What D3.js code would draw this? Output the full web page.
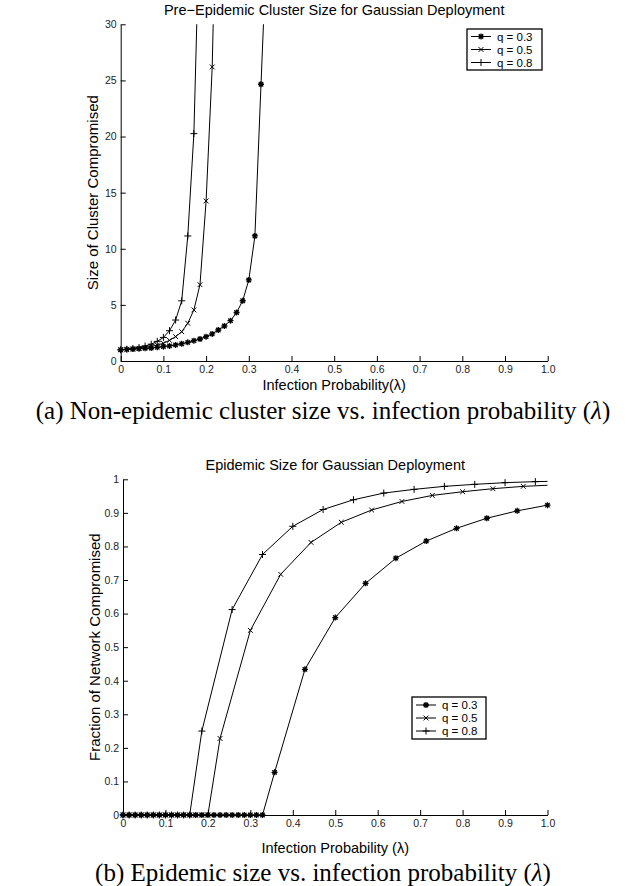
<!DOCTYPE html>
<html>
<head>
<meta charset="utf-8">
<script src="https://cdn.jsdelivr.net/npm/d3@7"></script>
<style>
  body { margin: 0; background: #fff; }
  svg { display: block; }
</style>
</head>
<body>
<svg id="fig" width="629" height="886"></svg>
<script>
// ---- (a) pre-epidemic cluster size: infection probability grid and mean cluster size
const preLambda = [0, 0.0143, 0.0286, 0.0429, 0.0571, 0.0714, 0.0857, 0.1, 0.1143, 0.1286,
  0.1429, 0.1571, 0.1714, 0.1857, 0.2, 0.2143, 0.2286, 0.2429, 0.2571, 0.2714,
  0.2857, 0.3, 0.3143, 0.3286, 0.3429];
const preQ03 = [1.0, 1.04, 1.07, 1.10, 1.13, 1.16, 1.22, 1.28, 1.34, 1.43,
  1.54, 1.66, 1.81, 1.96, 2.17, 2.41, 2.76, 3.12, 3.59, 4.32,
  5.37, 7.22, 11.14, 24.66, 38.0];
const preQ05 = [1.0, 1.03, 1.07, 1.13, 1.2, 1.3, 1.42, 1.58, 1.84, 2.17,
  2.61, 3.36, 4.55, 6.8, 14.26, 26.2, 50.0];
const preQ08 = [1.0, 1.05, 1.12, 1.2, 1.33, 1.5, 1.75, 2.1, 2.7, 3.65,
  5.36, 11.14, 20.26, 41.0];

// ---- (b) epidemic size: fraction of network compromised
const epiLambdaQ03 = [0, 0.0143, 0.0286, 0.0429, 0.0571, 0.0714, 0.0857, 0.1, 0.1143, 0.1286,
  0.1429, 0.1571, 0.1714, 0.1857, 0.2, 0.2143, 0.2286, 0.2429, 0.2571, 0.2714,
  0.2857, 0.3, 0.3143, 0.3286,
  0.3571, 0.4286, 0.5, 0.5714, 0.6429, 0.7143, 0.7857, 0.8571, 0.9286, 1.0];
const epiQ03 = [0, 0, 0, 0, 0, 0, 0, 0, 0, 0, 0, 0, 0, 0, 0, 0, 0, 0, 0, 0, 0, 0, 0, 0,
  0.127, 0.434, 0.588, 0.69, 0.765, 0.816, 0.854, 0.884, 0.906, 0.923];
const epiLambdaQ05 = [0, 0.0143, 0.0286, 0.0429, 0.0571, 0.0714, 0.0857, 0.1, 0.1143, 0.1286,
  0.1429, 0.1571, 0.1714, 0.1857, 0.2,
  0.2286, 0.3, 0.3714, 0.4429, 0.5143, 0.5857, 0.6571, 0.7286, 0.8, 0.8714, 0.9429, 1.0143];
const epiQ05 = [0, 0, 0, 0, 0, 0, 0, 0, 0, 0, 0, 0, 0, 0, 0,
  0.228, 0.55, 0.717, 0.812, 0.872, 0.9085, 0.934, 0.952, 0.963, 0.972, 0.979, 0.983];
const epiLambdaQ08 = [0, 0.0143, 0.0286, 0.0429, 0.0571, 0.0714, 0.0857, 0.1, 0.1143, 0.1286,
  0.1429, 0.1571,
  0.1857, 0.2571, 0.3286, 0.4, 0.4714, 0.5429, 0.6143, 0.6857, 0.7571, 0.8286, 0.9, 0.9714, 1.0429];
const epiQ08 = [0, 0, 0, 0, 0, 0, 0, 0, 0, 0, 0, 0,
  0.25, 0.612, 0.776, 0.86, 0.91, 0.939, 0.959, 0.970, 0.979, 0.985, 0.990, 0.993, 0.995];

const seriesNames = ["q = 0.3", "q = 0.5", "q = 0.8"];
const markerTypes = ["asterisk", "cross", "plus"];

const xTicks = [0, 0.1, 0.2, 0.3, 0.4, 0.5, 0.6, 0.7, 0.8, 0.9, 1.0];
const xTickLabels = ["0", "0.1", "0.2", "0.3", "0.4", "0.5", "0.6", "0.7", "0.8", "0.9", "1.0"];
const preYTicks = [0, 5, 10, 15, 20, 25, 30];
const epiYTicks = [0, 0.1, 0.2, 0.3, 0.4, 0.5, 0.6, 0.7, 0.8, 0.9, 1];
const epiYTickLabels = ["0", "0.1", "0.2", "0.3", "0.4", "0.5", "0.6", "0.7", "0.8", "0.9", "1"];

const sans = '"Liberation Sans", Arial, Helvetica, sans-serif';
const serif = '"Liberation Serif", "Times New Roman", Times, serif';

const svg = d3.select("#fig");

const markerPath = {
  asterisk: "M-3,0H3M0,-3V3M-2.2,-2.2L2.2,2.2M-2.2,2.2L2.2,-2.2",
  cross: "M-2.4,-2.4L2.4,2.4M-2.4,2.4L2.4,-2.4",
  plus: "M-3.5,0H3.5M0,-3.5V3.5"
};

function drawMarker(g, type, cx, cy) {
  g.append("path")
    .attr("d", markerPath[type])
    .attr("transform", `translate(${cx},${cy})`)
    .attr("fill", "none")
    .attr("stroke", "#000")
    .attr("stroke-width", type === "asterisk" ? 1.3 : 1);
}

function panel(cfg) {
  const g = svg.append("g");
  const x = d3.scaleLinear().domain([0, 1]).range([cfg.x0, cfg.x1]);
  const y = d3.scaleLinear().domain(cfg.yDomain).range([cfg.yBottom, cfg.yTop]);

  // plot-area clip for the curves (points beyond the limits run off the axes)
  const clipId = "clip-" + cfg.id;
  svg.append("defs").append("clipPath").attr("id", clipId)
    .append("rect")
    .attr("x", cfg.x0 - 10).attr("y", cfg.yTop)
    .attr("width", cfg.x1 - cfg.x0 + 10).attr("height", cfg.yBottom - cfg.yTop + 10);

  const xAxis = d3.axisBottom(x).tickValues(xTicks)
    .tickFormat((d, i) => xTickLabels[i])
    .tickSizeInner(-5).tickSizeOuter(0).tickPadding(5);
  const yAxis = d3.axisLeft(y).tickValues(cfg.yTicks)
    .tickFormat((d, i) => cfg.yTickLabels[i])
    .tickSizeInner(-5).tickSizeOuter(0).tickPadding(4);

  const gx = g.append("g").attr("transform", `translate(0,${cfg.yBottom})`).call(xAxis);
  const gy = g.append("g").attr("transform", `translate(${cfg.x0},0)`).call(yAxis);
  [gx, gy].forEach(a => {
    a.selectAll("path,line").attr("stroke", "#000").attr("stroke-width", 1);
    a.selectAll("text").attr("font-family", sans).attr("font-size", 10.5).attr("fill", "#222");
  });

  const line = d3.line().x(d => x(d[0])).y(d => y(d[1]));
  const plot = g.append("g");
  const curves = plot.append("g").attr("clip-path", `url(#${clipId})`);
  cfg.series.forEach((s, i) => {
    const pts = s.x.map((v, j) => [v, s.y[j]]);
    curves.append("path").datum(pts)
      .attr("d", line)
      .attr("fill", "none").attr("stroke", "#000").attr("stroke-width", 1);
    const mg = plot.append("g");
    pts.filter(p => p[0] <= 1.0001 && p[1] <= cfg.yDomain[1])
      .forEach(p => drawMarker(mg, markerTypes[i], x(p[0]), y(p[1])));
  });

  // title and axis labels
  g.append("text").attr("x", (cfg.x0 + cfg.x1) / 2).attr("y", cfg.titleY)
    .attr("text-anchor", "middle").attr("font-family", sans).attr("font-size", 14.5)
    .text(cfg.title);
  g.append("text").attr("x", (cfg.x0 + cfg.x1) / 2).attr("y", cfg.xLabelY)
    .attr("text-anchor", "middle").attr("font-family", sans).attr("font-size", 14.5)
    .text(cfg.xLabel);
  const ly = (cfg.yTop + cfg.yBottom) / 2;
  g.append("text")
    .attr("transform", `translate(${cfg.yLabelX},${ly}) rotate(-90)`)
    .attr("dy", "0.35em")
    .attr("text-anchor", "middle").attr("font-family", sans).attr("font-size", 15)
    .text(cfg.yLabel);

  // legend
  const L = cfg.legend;
  const lg = g.append("g");
  lg.append("rect").attr("x", L.x).attr("y", L.y).attr("width", L.w).attr("height", L.h)
    .attr("fill", "#fff").attr("stroke", "#000").attr("stroke-width", 1.3);
  seriesNames.forEach((name, i) => {
    const ry = L.y + L.firstRow + i * L.rowGap;
    lg.append("line").attr("x1", L.x + 4).attr("x2", L.x + 24).attr("y1", ry).attr("y2", ry)
      .attr("stroke", "#000").attr("stroke-width", 1);
    drawMarker(lg, markerTypes[i], L.x + 14, ry);
    lg.append("text").attr("x", L.x + 30).attr("y", ry).attr("dy", "0.36em")
      .attr("font-family", sans).attr("font-size", 11.5).text(name);
  });

  // caption below the panel
  const cap = svg.append("text").attr("x", 323).attr("y", cfg.captionY)
    .attr("text-anchor", "middle").attr("font-family", serif).attr("font-size", 25);
  cap.append("tspan").text(cfg.caption + " (");
  cap.append("tspan").attr("font-style", "italic").text("λ");
  cap.append("tspan").text(")");
}

panel({
  id: "pre",
  x0: 120.7, x1: 547.7, yTop: 24.3, yBottom: 361,
  yDomain: [0, 30], yTicks: preYTicks, yTickLabels: preYTicks.map(String),
  series: [
    { x: preLambda.slice(0, preQ03.length), y: preQ03 },
    { x: preLambda.slice(0, preQ05.length), y: preQ05 },
    { x: preLambda.slice(0, preQ08.length), y: preQ08 }
  ],
  title: "Pre\u2212Epidemic Cluster Size for Gaussian Deployment", titleY: 15,
  xLabel: "Infection Probability(\u03bb)", xLabelY: 390,
  yLabel: "Size of Cluster Compromised", yLabelX: 93,
  legend: { x: 467, y: 29, w: 75, h: 41, firstRow: 7.5, rowGap: 13 },
  caption: "(a) Non-epidemic cluster size vs. infection probability", captionY: 419
});

panel({
  id: "epi",
  x0: 123, x1: 547.5, yTop: 479.3, yBottom: 815,
  yDomain: [0, 1], yTicks: epiYTicks, yTickLabels: epiYTickLabels,
  series: [
    { x: epiLambdaQ03, y: epiQ03 },
    { x: epiLambdaQ05, y: epiQ05 },
    { x: epiLambdaQ08, y: epiQ08 }
  ],
  title: "Epidemic Size for Gaussian Deployment", titleY: 470,
  xLabel: "Infection Probability (\u03bb)", xLabelY: 853,
  yLabel: "Fraction of Network Compromised", yLabelX: 95,
  legend: { x: 412, y: 697, w: 74, h: 42, firstRow: 8, rowGap: 13 },
  caption: "(b) Epidemic size vs. infection probability", captionY: 881
});
</script>
</body>
</html>
